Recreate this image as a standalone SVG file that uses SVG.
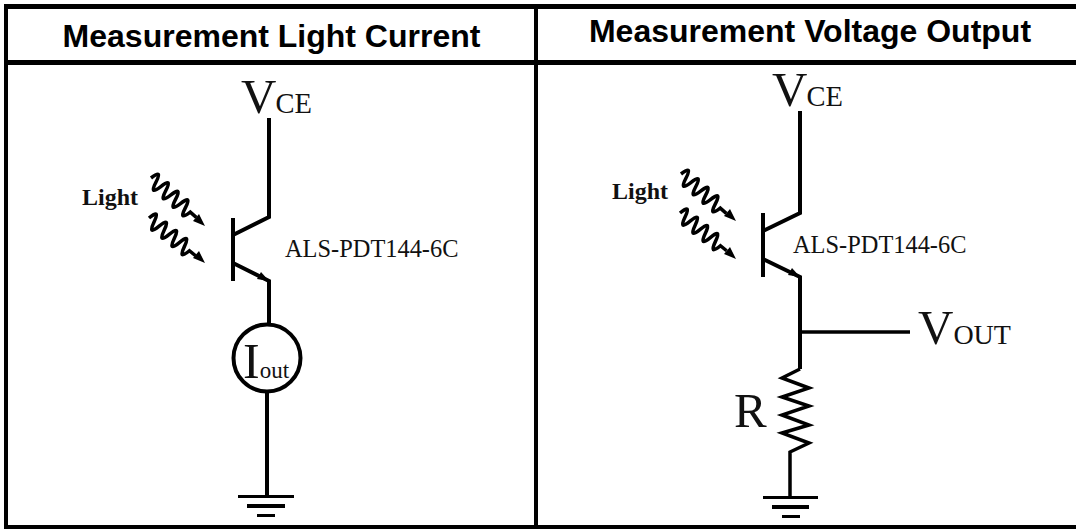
<svg xmlns="http://www.w3.org/2000/svg" width="1076" height="529" viewBox="0 0 1076 529">
<style>
.b{fill:none;stroke:#000;stroke-width:4}
.w{fill:none;stroke:#000;stroke-width:3.500}
.h{font:bold 32px "Liberation Sans",Arial,sans-serif;fill:#000;text-anchor:middle}
.s{font-family:"Liberation Serif","Times New Roman",serif;fill:#111}
.wv{fill:none;stroke:#000;stroke-width:3.500}
</style>
<defs>
<path id="wave" class="wv" d="M0 0Q3 -15 6.500 0T13 0T19.500 0T26 0T32.500 0T39 0T45.500 0T52 0L60 0"/>
</defs>
<rect width="1076" height="529" fill="#fff"/>
<g id="frame" fill="#000">
<rect x="4" y="4" width="1072" height="5"/>
<rect x="4" y="60" width="1072" height="5"/>
<rect x="4" y="4" width="4" height="525"/>
<rect x="534" y="4" width="4" height="525"/>
<rect x="4" y="525" width="1072" height="4"/>
</g>
<g id="headers">
<text class="h" x="271.500" y="47">Measurement Light Current</text>
<text class="h" x="810" y="42">Measurement Voltage Output</text>
</g>
<g id="connectors">
<path class="b" d="M269 118V217L233 235M233 263L269 281V325"/>
<path class="b" d="M267 390V497"/>
<path class="b" d="M800 111V213L763 231M763 259L800 277V369"/>
<path class="w" d="M800 332H910"/>
<path class="w" d="M800 369L782 378L809 388L782 397L809 406L782 415L809 425L782 433L809 443L790 452V497"/>
</g>
<g id="transistor-left">
<path class="b" d="M233 218V281"/>
<path d="M269 281L257 279L261 272Z" fill="#000"/>
<use href="#wave" transform="translate(151,178) rotate(41)"/>
<use href="#wave" transform="translate(149,218) rotate(39)"/>
<path d="M205 226L193 221L199 214Z M205 263L193 258L199 251Z" fill="#000"/>
<text class="s" x="82" y="205" font-size="24" font-weight="bold">Light</text>
<text class="s" x="285" y="257" font-size="24.400">ALS-PDT144-6C</text>
</g>
<g id="vce-left"><text class="s" x="241" y="113" font-size="49">V<tspan font-size="28.500" dx="-1">CE</tspan></text></g>
<g id="ammeter">
<circle cx="267" cy="358" r="33.500" fill="#fff" stroke="#000" stroke-width="4"/>
<text class="s" x="243" y="378" font-size="50">I<tspan font-size="23">out</tspan></text>
</g>
<g id="ground-left" fill="#000">
<rect x="238" y="495" width="56" height="3"/>
<rect x="247" y="504" width="38" height="4"/>
<rect x="257" y="514" width="18" height="3"/>
</g>
<g id="transistor-right">
<path class="b" d="M763 213V277"/>
<path d="M800 277L788 275L792 268Z" fill="#000"/>
<use href="#wave" transform="translate(681,174) rotate(41)"/>
<use href="#wave" transform="translate(680,213) rotate(39)"/>
<path d="M736 221L724 216L730 209Z M736 259L724 254L730 247Z" fill="#000"/>
<text class="s" x="612" y="199" font-size="24" font-weight="bold">Light</text>
<text class="s" x="793" y="253" font-size="24.400">ALS-PDT144-6C</text>
</g>
<g id="vce-right"><text class="s" x="772" y="106" font-size="49">V<tspan font-size="28.500" dx="-1">CE</tspan></text></g>
<g id="vout"><text class="s" x="918" y="344" font-size="49">V<tspan font-size="28">OUT</tspan></text></g>
<g id="resistor"><text class="s" x="734" y="427" font-size="49">R</text></g>
<g id="ground-right" fill="#000">
<rect x="763" y="496" width="55" height="3"/>
<rect x="772" y="505" width="37" height="4"/>
<rect x="782" y="515" width="18" height="3"/>
</g>
</svg>
